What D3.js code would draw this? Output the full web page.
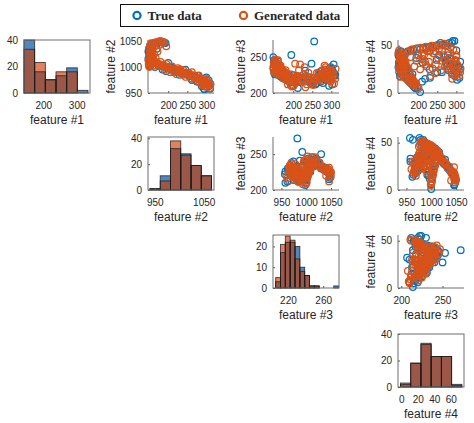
<!DOCTYPE html>
<html>
<head>
<meta charset="utf-8">
<script src="https://cdn.jsdelivr.net/npm/d3@7"></script>
<style>
  body { margin: 0; background: #fff; }
  text { font-family: "Liberation Sans", Arial, Helvetica, sans-serif; fill: #262626; }
</style>
</head>
<body>
<svg id="chart" width="474" height="423"></svg>
<script>
const featureNames = ["feature #1", "feature #2", "feature #3", "feature #4"];
const seriesNames = ["True data", "Generated data"];

// samples: [feature #1, feature #2, feature #3, feature #4]
const trueSamples = [
  [152,1002,240,42],[149,1005,244,40],[155,1008,238,44],[150,1012,246,38],[157,1010,242,36],
  [148,1016,236,40],[153,1018,241,33],[159,1015,233,37],[151,1022,239,30],[156,1025,236,28],
  [149,1028,234,32],[154,1030,230,26],[158,1033,232,24],[150,1036,228,22],[155,1038,231,20],
  [152,1041,226,18],[160,1020,244,34],[148,1030,250,27],
  [162,1044,225,18],[167,1046,223,16],[172,1047,221,14],[176,1048,224,12],[181,1049,219,10],
  [186,1048,217,8],[190,1047,220,6],[193,1046,215,5],
  [166,1008,236,42],[172,1006,232,44],[180,1003,228,45],[188,1001,226,46],[196,999,222,47],
  [205,996,220,46],[214,994,218,48],[222,992,221,47],[231,990,216,49],[240,988,219,48],
  [248,986,215,50],[258,984,212,53],[264,982,222,51],[272,980,216,50],[281,978,220,53],
  [290,976,224,55],[295,957,222,55],[288,963,230,53],
  [160,1012,238,36],[164,1010,234,32],[168,1008,230,28],[172,1006,226,25],[177,1004,224,21],
  [182,1003,220,17],[187,1002,218,13],[192,1001,216,9],[198,1000,210,6],[205,1000,214,1],
  [268,984,226,38],[272,981,230,32],[276,979,224,28],[280,977,228,24],[284,975,232,30],
  [288,973,226,20],[292,971,222,26],[296,969,228,18],[300,967,234,22],[304,966,230,28],
  [308,964,226,16],[298,971,236,34],[286,976,218,36],[302,962,212,14],[310,968,224,25],
  [294,958,210,30],[278,983,214,40],[306,974,240,27],
  [210,997,222,12],[218,995,216,15],[250,988,213,22],
  [255,982,272,40],[195,992,253,37],[248,987,241,35],[212,998,207,32],[231,992,231,16],
  [165,1000,235,30],[185,995,222,20],[230,985,220,25],[275,972,225,35],[300,980,232,45],
  [170,1035,230,24],[200,1008,225,40],[245,995,217,44],[262,975,214,22],[310,958,226,33]
];

const genSamples = [
  [150,1000,243,45],[153,1003,247,41],[149,1007,241,43],[156,1006,238,39],[151,1011,245,36],
  [158,1013,240,40],[154,1016,236,35],[150,1020,242,31],[157,1023,234,33],[152,1027,238,27],
  [159,1029,231,29],[155,1033,233,23],[150,1036,229,25],[157,1039,227,20],[153,1042,230,17],
  [160,1017,246,37],[163,1025,239,30],[148,1012,233,42],
  [158,1045,226,19],[163,1047,228,17],[169,1048,224,15],[174,1049,222,13],[179,1050,225,11],
  [184,1049,219,10],[189,1048,221,8],[186,1046,212,12],
  [165,1009,237,40],[170,1007,233,43],[176,1005,230,44],[183,1003,227,46],[190,1001,224,45],
  [198,999,221,47],[206,997,219,48],[213,995,222,46],[220,993,217,49],[228,991,220,48],
  [236,989,212,50],[244,987,219,49],[252,985,211,51],[260,983,218,50],[268,981,221,52],
  [276,979,217,50],[284,977,223,48],[292,975,219,46],[232,994,224,45],[255,988,221,47],
  [158,1014,240,38],[161,1012,236,35],[165,1011,233,31],[168,1009,229,29],[171,1008,231,26],
  [175,1006,226,23],[178,1005,224,20],[182,1004,222,17],[185,1003,219,15],[189,1002,217,12],
  [193,1001,211,9],[197,1000,209,7],[201,999,210,5],[176,1002,220,16],
  [212,996,224,36],[220,994,220,30],[228,992,226,33],[238,990,218,26],[244,989,222,21],
  [252,987,214,37],[260,985,217,24],[232,993,208,18],
  [266,983,228,40],[270,981,224,35],[275,979,231,30],[279,977,226,26],[283,975,233,33],
  [287,974,221,22],[291,972,229,28],[295,970,225,19],[299,968,232,24],[303,966,228,30],
  [307,965,213,18],[311,967,234,26],[285,978,236,37],[297,973,218,35],[305,970,226,21],
  [289,969,230,15],
  [205,997,241,36],[218,995,240,33],[298,962,216,30],
  [180,1010,232,38],[195,1006,226,34],[210,1001,221,40],[225,998,219,44],[240,994,222,42],
  [262,990,220,45],[280,984,225,44],[300,977,222,40],[190,995,218,28],[205,990,214,25],
  [222,986,216,28],[246,981,213,30],[270,975,219,28],[290,965,224,20],[310,960,220,22],
  [162,1003,232,26],[167,1018,238,33],[172,1030,232,27],[165,1040,229,21],[178,1043,226,16],
  [195,1040,220,10],[155,1046,231,24],[262,978,228,34],[282,970,238,31],[300,975,230,38],
  [240,985,228,42],[215,990,232,40],[230,996,236,44]
];

// histogram bins and counts per feature
const histEdges = [
  [142, 174, 206, 238, 270, 302, 334],
  [940, 961, 982, 1003, 1024, 1045, 1066],
  [206, 211.5, 217, 222.5, 228, 233.5, 239, 244.5, 250, 255.5, 261, 266.5, 272, 277.5],
  [-1, 11.4, 23.8, 36.2, 48.6, 61, 73.4]
];
const histTrue = [
  [40, 16, 10, 13, 19, 2],
  [1, 11, 32, 28, 19, 11],
  [3, 17, 22, 22, 20, 10, 6, 1, 1, 0, 0, 0, 1],
  [2, 18, 33, 23, 23, 2]
];
const histGen = [
  [33, 23, 10, 16, 16, 0],
  [1, 7, 38, 27, 19, 11],
  [5, 21, 25, 23, 14, 8, 6, 1, 1, 0, 0, 0, 0],
  [3, 18, 32, 23, 23, 1]
];

const histXDomains = [[142, 340], [936, 1071], [203, 278], [-4, 76]];
const histYDomains = [[0, 40], [0, 41], [0, 25.5], [0, 40]];
const histXTicks = [[200, 300], [950, 1050], [220, 260], [0, 20, 40, 60]];
const histYTicks = [[0, 20, 40], [0, 20, 40], [0, 10, 20], [0, 20, 40]];

const scatterXDomains = [[147, 320], [933, 1066], [196, 276], null];
const scatterYDomains = [null, [950, 1052], [200, 274], [0, 56]];
const scatterTicks = [[200, 250, 300], [950, 1000, 1050], [200, 250], [0, 50]];

const blue = "#0072BD", orange = "#D95319";
const colLeft = [24, 148, 273, 398];
const rowTop = [40, 137, 235, 334];
const W = 66, H = 53;
const fmt = d3.format("d");

const svg = d3.select("#chart");

function styleAxis(g) {
  g.select(".domain").remove();
  g.selectAll(".tick line").attr("stroke", "#555");
  g.selectAll(".tick text").attr("font-size", 10).attr("fill", "#262626")
    .style("font-family", "'Liberation Sans', Arial, sans-serif");
}

function xLabel(g, i) {
  g.append("text").attr("x", W / 2).attr("y", H + 27).attr("dy", "0.35em")
    .attr("text-anchor", "middle").attr("font-size", 12).text(featureNames[i]);
}

function drawHist(i) {
  const g = svg.append("g").attr("transform", `translate(${colLeft[i]},${rowTop[i]})`);
  const x = d3.scaleLinear().domain(histXDomains[i]).range([0, W]);
  const y = d3.scaleLinear().domain(histYDomains[i]).range([H, 0]);
  const edges = histEdges[i];
  const bins = histTrue[i].map((t, k) => ({ x0: edges[k], x1: edges[k + 1], t: t, g: histGen[i][k] }));
  const val = (d, key) => key === "m" ? Math.min(d.t, d.g) : d[key];

  const bar = (sel, key, fill) => sel.selectAll(null)
    .data(bins.filter(d => val(d, key) > 0))
    .enter().append("rect")
    .attr("x", d => x(d.x0))
    .attr("width", d => x(d.x1) - x(d.x0))
    .attr("y", d => y(val(d, key)))
    .attr("height", d => H - y(val(d, key)))
    .attr("fill", fill);

  bar(g, "t", "#4f88bf");
  bar(g, "g", "#e2805f");
  bar(g, "m", "#9b5849");
  bar(g, "t", "none").attr("stroke", "#1a1a1a").attr("stroke-opacity", 0.8).attr("stroke-width", 0.9);
  bar(g, "g", "none").attr("stroke", "#1a1a1a").attr("stroke-opacity", 0.8).attr("stroke-width", 0.9);

  g.append("g").attr("transform", `translate(0,${H})`)
    .call(d3.axisBottom(x).tickValues(histXTicks[i]).tickFormat(fmt).tickSize(-2).tickPadding(8.5))
    .call(styleAxis);
  g.append("g")
    .call(d3.axisLeft(y).tickValues(histYTicks[i]).tickFormat(fmt).tickSize(-2).tickPadding(6))
    .call(styleAxis);

  g.append("rect").attr("width", W).attr("height", H)
    .attr("fill", "none").attr("stroke", "#6e6e6e").attr("stroke-width", 1);
  xLabel(g, i);
}

function drawScatter(r, c) {
  const g = svg.append("g").attr("transform", `translate(${colLeft[c]},${rowTop[r]})`);
  const x = d3.scaleLinear().domain(scatterXDomains[r]).range([0, W]);
  const y = d3.scaleLinear().domain(scatterYDomains[c]).range([H, 0]);

  g.append("g").attr("transform", `translate(0,${H})`)
    .call(d3.axisBottom(x).tickValues(scatterTicks[r]).tickFormat(fmt).tickSize(-2).tickPadding(8.5))
    .call(styleAxis);
  g.append("g")
    .call(d3.axisLeft(y).tickValues(scatterTicks[c]).tickFormat(fmt).tickSize(-2).tickPadding(6))
    .call(styleAxis);

  g.append("path").attr("d", `M0,0V${H}H${W}`)
    .attr("fill", "none").attr("stroke", "#6e6e6e").attr("stroke-width", 1);

  [[trueSamples, blue], [genSamples, orange]].forEach(([data, col]) => {
    g.append("g").selectAll("circle").data(data).enter().append("circle")
      .attr("cx", d => x(d[r]))
      .attr("cy", d => y(d[c]))
      .attr("r", 3.3)
      .attr("fill", "none")
      .attr("stroke", col)
      .attr("stroke-width", 1.25);
  });

  xLabel(g, r);
  const nChars = d3.max(scatterTicks[c], t => String(t).length);
  g.append("text")
    .attr("transform", `translate(${-(17 + 5 * nChars)},${H / 2}) rotate(-90)`)
    .attr("dy", "0.35em").attr("text-anchor", "middle").attr("font-size", 12)
    .text(featureNames[c]);
}

for (let r = 0; r < 4; r++) {
  drawHist(r);
  for (let c = r + 1; c < 4; c++) drawScatter(r, c);
}

// legend
const leg = svg.append("g");
leg.append("rect").attr("x", 120.5).attr("y", 4.5).attr("width", 228).attr("height", 22)
  .attr("fill", "#fff").attr("stroke", "#111").attr("stroke-width", 1);
const legX = [137, 243.5];
[blue, orange].forEach((col, k) => {
  leg.append("circle").attr("cx", legX[k]).attr("cy", 15.5).attr("r", 3.6)
    .attr("fill", "none").attr("stroke", col).attr("stroke-width", 2.2);
  leg.append("text").attr("x", legX[k] + 10.5).attr("y", 20.3)
    .attr("font-size", 13).attr("font-weight", "bold")
    .style("font-family", "'Liberation Serif', 'Times New Roman', serif")
    .attr("fill", "#000")
    .text(seriesNames[k]);
});
</script>
</body>
</html>
